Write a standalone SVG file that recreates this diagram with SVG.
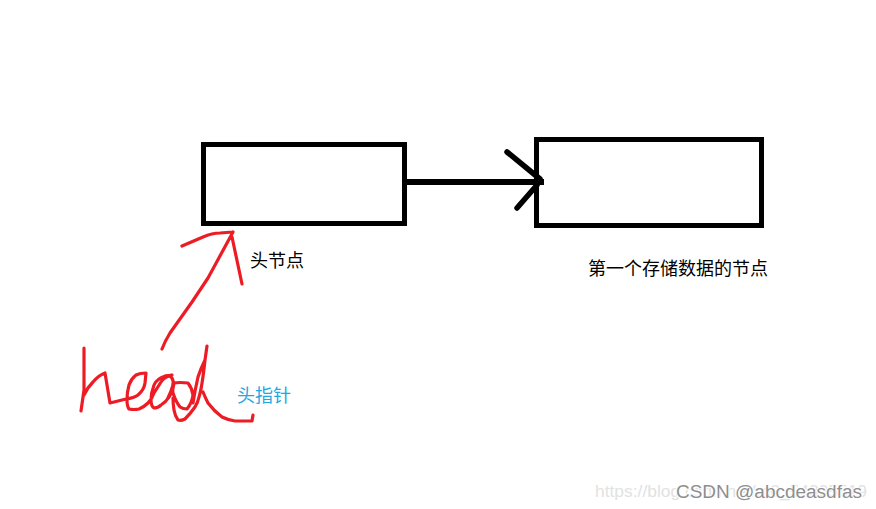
<svg xmlns="http://www.w3.org/2000/svg" width="876" height="509" viewBox="0 0 876 509">
<style>
.box{fill:none;stroke:#000;stroke-width:5}
.ink{fill:none;stroke:#000;stroke-width:5.500;stroke-linecap:round;stroke-linejoin:round}
.shaft{fill:none;stroke:#000;stroke-width:6}
.red{fill:none;stroke:#ed1c24;stroke-width:3.200;stroke-linecap:round;stroke-linejoin:round}
.t{font-family:"Noto Sans CJK SC","Liberation Sans",sans-serif;font-size:18px}
.wm{font-family:"Liberation Sans",Arial,sans-serif}
</style>
<rect width="876" height="509" fill="#fff"/>
<g id="node-head-node">
<rect class="box" x="203.500" y="144.500" width="201" height="79"/>
<text class="t" x="250" y="267" fill="#000">头节点</text>
</g>
<g id="node-first-node">
<rect class="box" x="536.500" y="139.500" width="225" height="86"/>
<text class="t" x="588" y="275" fill="#000">第一个存储数据的节点</text>
</g>
<g id="connectors">
<path class="shaft" d="M406 182H544"/>
<path class="ink" d="M507 152L540 179M517 208L537 185"/>
<path class="red" d="M162 349Q165 341 170 333L192 302L208 278L233 232M182 246L203 237Q212 233 220 233L233 232M232 237L242 284"/>
</g>
<g id="node-head-pointer">
<path class="red" d="M84 348V390L81 411M84 395Q87 388 93 382Q99 375 105 373L110 403L126 399Q134 398 138 395Q144 390 145 383L146 373Q140 373 136 375Q131 379 129 385Q127 392 127 400Q127 406 129 409Q134 410 139 409Q144 407 148 403Q152 399 154 393L161 382Q164 377 172 375Q163 376 159 379Q155 382 154 385Q151 393 151 400Q151 406 154 408Q158 408 161 405Q166 402 169 397Q173 391 174 383"/>
<path class="red" d="M165 376Q170 375 172 378Q174 382 173 385Q171 392 168 398M173 383Q180 382 188 383Q192 388 193 395Q192 403 187 409Q183 409 180 407Q176 402 173 393Q172 388 173 383M173 398Q173 404 174 410Q175 416 178 420Q181 421 185 419Q190 414 195 407Q198 402 199 397Q202 388 205 360L207 346M205 360Q201 368 198 377Q195 390 193 403M203 392Q205 397 208 403Q214 411 222 417Q228 420 235 421H252L253 415"/>
<text class="t" x="237" y="402" fill="#22a7e0">头指针</text>
</g>
<g id="watermark">
<text class="wm" x="595" y="497" fill="#e2e2e2" font-size="16" textLength="272" lengthAdjust="spacingAndGlyphs">https://blog.csdn.net/m0_54305519</text>
<text class="wm" x="676" y="498" fill="#8e8e8e" stroke="#fff" stroke-width="2" paint-order="stroke" font-size="18" textLength="186" lengthAdjust="spacingAndGlyphs">CSDN @abcdeasdfas</text>
</g>
</svg>
